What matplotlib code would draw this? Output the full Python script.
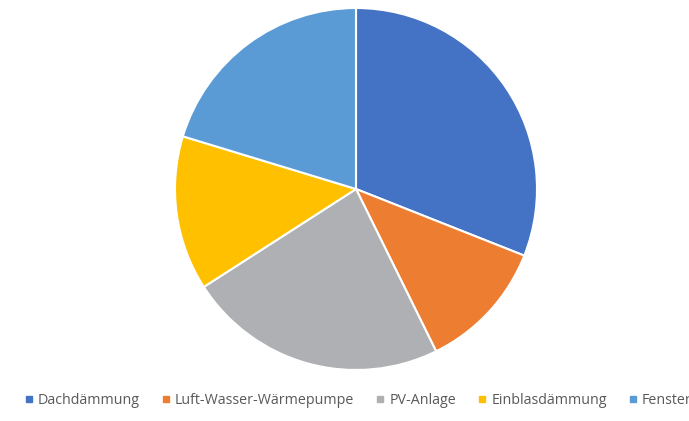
import matplotlib.pyplot as plt
from matplotlib.lines import Line2D

labels = ['Dachdämmung', 'Luft-Wasser-Wärmepumpe', 'PV-Anlage', 'Einblasdämmung', 'Fenster']
values = [31.0, 11.7, 23.2, 13.8, 20.3]
colors = ['#4472C4', '#ED7D31', '#AFB0B3', '#FFC000', '#5B9BD5']

plt.rcParams['font.family'] = ['Open Sans', 'DejaVu Sans']

W, H = 689, 421
fig = plt.figure(figsize=(W / 100, H / 100), dpi=100)
cx, cy, r = 356, 189, 181
ax = fig.add_axes([(cx - r) / W, 1 - (cy + r) / H, 2 * r / W, 2 * r / H])
ax.pie(values, colors=colors, startangle=90, counterclock=False,
       wedgeprops=dict(edgecolor='white', linewidth=1.5))
ax.set_aspect('equal')
ax.set_xlim(-1, 1)
ax.set_ylim(-1, 1)

handles = [Line2D([], [], marker='s', linestyle='none', markersize=5,
                  markerfacecolor=c, markeredgecolor=c) for c in colors]
fig.legend(handles, labels, loc='center left', bbox_to_anchor=(25 / W, 1 - 401 / H),
           ncol=5, frameon=False, fontsize=10.3, handlelength=0.55,
           handletextpad=0.35, columnspacing=1.55, labelcolor='#595959',
           borderaxespad=0, borderpad=0)

fig.savefig('out.png', dpi=100)
